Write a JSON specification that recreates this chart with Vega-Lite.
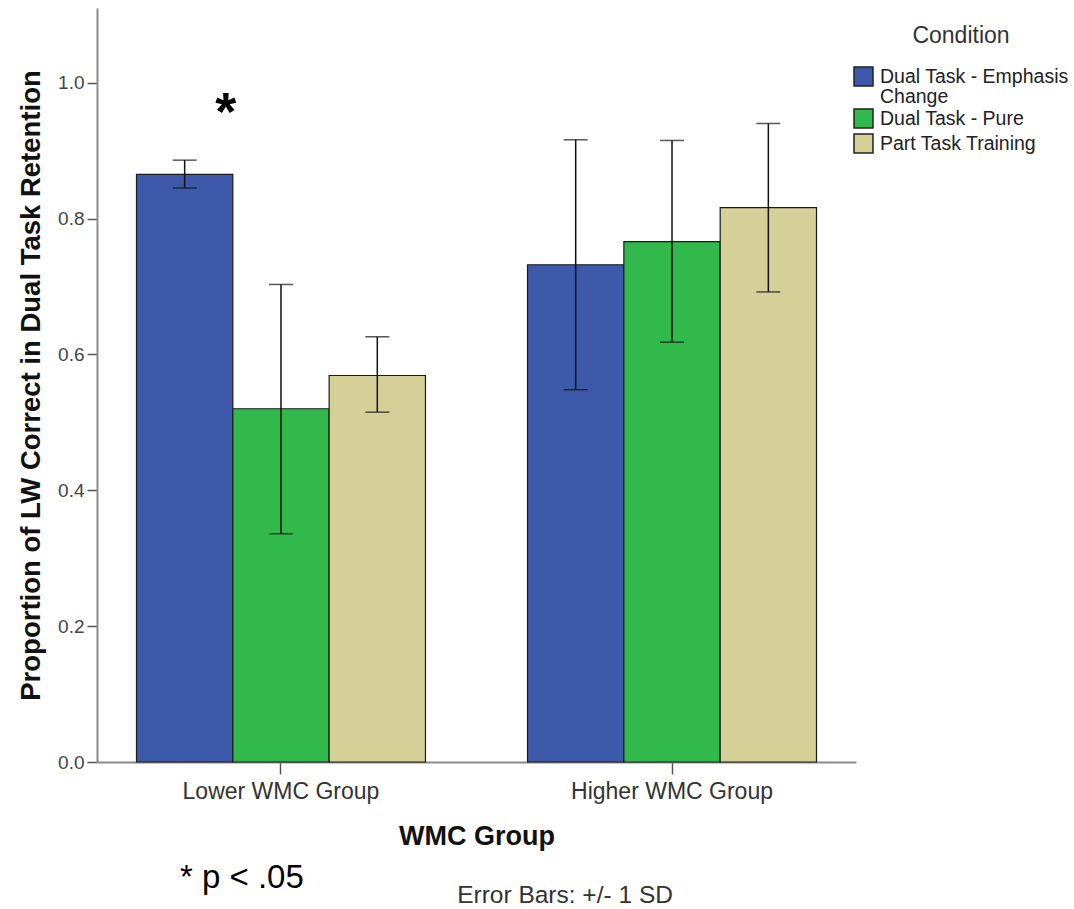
{
  "$schema": "https://vega.github.io/schema/vega-lite/v6.json",
  "width": 759,
  "height": 754,
  "autosize": {"type": "none"},
  "padding": {"left": 97, "top": 8, "right": 218, "bottom": 147},
  "background": "white",
  "config": {
    "font": "Liberation Sans",
    "view": {"stroke": null},
    "axis": {"grid": false},
    "style": {"guide-label": {"lineHeight": 20}}
  },
  "datasets": {
    "bars": [
      {"group": "Lower WMC Group", "condition": "Dual Task - Emphasis Change", "mean": 0.865, "low": 0.845, "high": 0.886},
      {"group": "Lower WMC Group", "condition": "Dual Task - Pure", "mean": 0.520, "low": 0.336, "high": 0.703},
      {"group": "Lower WMC Group", "condition": "Part Task Training", "mean": 0.569, "low": 0.515, "high": 0.626},
      {"group": "Higher WMC Group", "condition": "Dual Task - Emphasis Change", "mean": 0.732, "low": 0.548, "high": 0.916},
      {"group": "Higher WMC Group", "condition": "Dual Task - Pure", "mean": 0.766, "low": 0.618, "high": 0.915},
      {"group": "Higher WMC Group", "condition": "Part Task Training", "mean": 0.816, "low": 0.692, "high": 0.940}
    ],
    "notes": [
      {"label": "*", "group": "Lower WMC Group", "condition": "Dual Task - Emphasis Change", "v": 0.93},
      {"label": "* p < .05", "group": "Lower WMC Group", "condition": "Dual Task - Pure", "v": -0.1856},
      {"label": "Error Bars:  +/- 1 SD", "group": "Higher WMC Group", "condition": "Dual Task - Pure", "v": -0.2077}
    ]
  },
  "layer": [
    {
      "data": {"name": "bars"},
      "mark": {"type": "bar", "stroke": "#1a1a1a", "strokeWidth": 1.2},
      "encoding": {
        "x": {
          "field": "group", "type": "nominal",
          "sort": ["Lower WMC Group", "Higher WMC Group"],
          "scale": {"paddingInner": 0.261, "paddingOuter": 0.101},
          "axis": {
            "title": "WMC Group",
            "titleFontSize": 27, "titleFontWeight": "bold", "titleColor": "#111",
            "titlePadding": 20,
            "labelFontSize": 23, "labelColor": "#333", "labelAngle": 0, "labelPadding": 6,
            "labelLimit": 500,
            "domainColor": "#8a8a8a", "domainWidth": 2,
            "tickColor": "#555", "tickSize": 12, "tickWidth": 1.5
          }
        },
        "xOffset": {
          "field": "condition", "type": "nominal",
          "sort": ["Dual Task - Emphasis Change", "Dual Task - Pure", "Part Task Training"],
          "scale": {"paddingInner": 0, "paddingOuter": 0}
        },
        "y": {
          "field": "mean", "type": "quantitative",
          "scale": {"domain": [0, 1.11], "nice": false},
          "axis": {
            "title": "Proportion of LW Correct in Dual Task Retention",
            "titleFontSize": 27.5, "titleFontWeight": "bold", "titleColor": "#111",
            "titlePadding": 12,
            "values": [0, 0.2, 0.4, 0.6, 0.8, 1.0], "format": ".1f",
            "labelFontSize": 19, "labelColor": "#444", "labelPadding": 3,
            "domainColor": "#8a8a8a", "domainWidth": 2,
            "tickColor": "#555", "tickSize": 10, "tickWidth": 1.5
          }
        },
        "color": {
          "field": "condition", "type": "nominal",
          "sort": ["Dual Task - Emphasis Change", "Dual Task - Pure", "Part Task Training"],
          "scale": {
            "domain": ["Dual Task - Emphasis Change", "Dual Task - Pure", "Part Task Training"],
            "range": ["#3E58AA", "#31B94B", "#D5CF98"]
          },
          "legend": {
            "title": "Condition",
            "orient": "none", "legendX": 756, "legendY": 17,
            "titleFontSize": 23, "titleFontWeight": "normal", "titleColor": "#333",
            "titleAnchor": "middle", "titlePadding": 18,
            "labelFontSize": 19.5, "labelColor": "#222", "labelOffset": 6,
            "labelLimit": 300,
            "labelExpr": "datum.label == 'Dual Task - Emphasis Change' ? ['Dual Task - Emphasis', 'Change'] : datum.label",
            "symbolType": "square", "symbolSize": 361,
            "symbolStrokeColor": "#222", "symbolStrokeWidth": 1.5,
            "rowPadding": 0
          }
        }
      }
    },
    {
      "data": {"name": "bars"},
      "mark": {"type": "rule", "color": "#111", "strokeWidth": 1.5},
      "encoding": {
        "x": {"field": "group", "type": "nominal", "sort": ["Lower WMC Group", "Higher WMC Group"]},
        "xOffset": {"field": "condition", "type": "nominal", "sort": ["Dual Task - Emphasis Change", "Dual Task - Pure", "Part Task Training"]},
        "y": {"field": "low", "type": "quantitative"},
        "y2": {"field": "high"}
      }
    },
    {
      "data": {"name": "bars"},
      "mark": {"type": "tick", "color": "#111", "size": 24, "thickness": 1.5, "orient": "horizontal"},
      "encoding": {
        "x": {"field": "group", "type": "nominal", "sort": ["Lower WMC Group", "Higher WMC Group"]},
        "xOffset": {"field": "condition", "type": "nominal", "sort": ["Dual Task - Emphasis Change", "Dual Task - Pure", "Part Task Training"]},
        "y": {"field": "low", "type": "quantitative"}
      }
    },
    {
      "data": {"name": "bars"},
      "mark": {"type": "tick", "color": "#111", "size": 24, "thickness": 1.5, "orient": "horizontal"},
      "encoding": {
        "x": {"field": "group", "type": "nominal", "sort": ["Lower WMC Group", "Higher WMC Group"]},
        "xOffset": {"field": "condition", "type": "nominal", "sort": ["Dual Task - Emphasis Change", "Dual Task - Pure", "Part Task Training"]},
        "y": {"field": "high", "type": "quantitative"}
      }
    },
    {
      "data": {"name": "notes"},
      "transform": [{"filter": "datum.label == '*'"}],
      "mark": {"type": "text", "fontSize": 54, "fontWeight": "bold", "color": "#000", "dx": 41, "baseline": "alphabetic", "align": "center"},
      "encoding": {
        "x": {"field": "group", "type": "nominal", "sort": ["Lower WMC Group", "Higher WMC Group"]},
        "xOffset": {"field": "condition", "type": "nominal", "sort": ["Dual Task - Emphasis Change", "Dual Task - Pure", "Part Task Training"]},
        "y": {"field": "v", "type": "quantitative"},
        "text": {"field": "label"}
      }
    },
    {
      "data": {"name": "notes"},
      "transform": [{"filter": "datum.label == '* p < .05'"}],
      "mark": {"type": "text", "fontSize": 33, "color": "#000", "dx": -101, "baseline": "alphabetic", "align": "left"},
      "encoding": {
        "x": {"field": "group", "type": "nominal", "sort": ["Lower WMC Group", "Higher WMC Group"]},
        "xOffset": {"field": "condition", "type": "nominal", "sort": ["Dual Task - Emphasis Change", "Dual Task - Pure", "Part Task Training"]},
        "y": {"field": "v", "type": "quantitative"},
        "text": {"field": "label"}
      }
    },
    {
      "data": {"name": "notes"},
      "transform": [{"filter": "datum.label != '*' && datum.label != '* p < .05'"}],
      "mark": {"type": "text", "fontSize": 24.5, "color": "#333", "dx": -107, "baseline": "alphabetic", "align": "center"},
      "encoding": {
        "x": {"field": "group", "type": "nominal", "sort": ["Lower WMC Group", "Higher WMC Group"]},
        "xOffset": {"field": "condition", "type": "nominal", "sort": ["Dual Task - Emphasis Change", "Dual Task - Pure", "Part Task Training"]},
        "y": {"field": "v", "type": "quantitative"},
        "text": {"field": "label"}
      }
    }
  ]
}
